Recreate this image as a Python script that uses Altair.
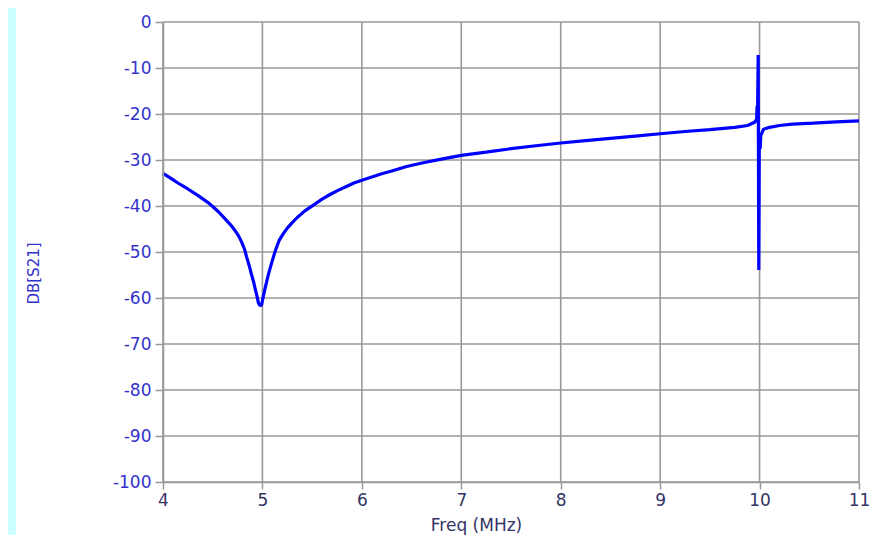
import altair as alt
import pandas as pd

freq = [4.00, 4.08, 4.15, 4.25, 4.35, 4.45, 4.50, 4.56, 4.62, 4.68, 4.72, 4.76,
        4.79, 4.82, 4.84, 4.87, 4.89, 4.91, 4.925, 4.945, 4.96, 4.975, 4.99,
        5.00, 5.02, 5.045, 5.07, 5.095, 5.12, 5.145, 5.17, 5.21, 5.25, 5.30,
        5.35, 5.43, 5.52, 5.60, 5.68, 5.76, 5.85, 5.92, 6.00, 6.10, 6.20, 6.30,
        6.45, 6.64, 6.80, 7.00, 7.25, 7.48, 7.75, 8.00, 8.25, 8.50, 8.75, 9.00,
        9.25, 9.50, 9.75, 9.88, 9.95, 9.97, 9.975, 9.98, 9.986, 9.992, 9.997,
        10.002, 10.006, 10.012, 10.04, 10.10, 10.20, 10.33, 10.54, 10.77, 11.00]
db = [-32.9, -34.0, -35.0, -36.3, -37.7, -39.2, -40.1, -41.3, -42.7, -44.1, -45.2, -46.5,
      -47.8, -49.4, -51.0, -53.2, -54.9, -56.4, -57.8, -59.6, -61.1, -61.6, -61.6,
      -60.6, -58.5, -56.2, -54.1, -52.2, -50.4, -48.8, -47.4, -46.0, -44.8, -43.6,
      -42.5, -41.0, -39.7, -38.5, -37.5, -36.6, -35.7, -35.0, -34.4, -33.7, -33.0, -32.4,
      -31.4, -30.5, -29.8, -29.0, -28.3, -27.6, -26.9, -26.3, -25.8, -25.3, -24.8, -24.3,
      -23.8, -23.4, -22.9, -22.5, -21.8, -21.2, -18.3, -19.8, -7.2, -53.9, -27.8,
      -24.6, -27.6, -24.7, -23.3, -22.9, -22.5, -22.2, -22.0, -21.7, -21.5]

x_ticks = [4, 5, 6, 7, 8, 9, 10, 11]
y_ticks = [0, -10, -20, -30, -40, -50, -60, -70, -80, -90, -100]

W, H = 696, 460
FONT = "DejaVu Sans"
GRID = "#999999"

curve = pd.DataFrame({"freq": freq, "db": db, "order": list(range(len(freq)))})
xgrid = pd.DataFrame({"freq": x_ticks})
ygrid = pd.DataFrame({"db": y_ticks})

xs = alt.Scale(domain=[4, 11], nice=False, zero=False)
ys = alt.Scale(domain=[-100, 0], nice=False, zero=False)

x_axis = alt.Axis(values=x_ticks, grid=False, domain=True, domainColor=GRID, domainWidth=1.5,
                  ticks=True, tickColor=GRID, tickWidth=1.5, tickSize=7,
                  labelFont=FONT, labelFontSize=17, labelColor="#333366", labelPadding=3,
                  labelFlush=False, labelOverlap=False, labelExpr="'' + datum.value",
                  title="Freq (MHz)", titleFont=FONT, titleFontSize=17, titleFontWeight="normal",
                  titleColor="#333366", titleX=313, titleY=43, titleBaseline="middle",
                  titleAlign="center", zindex=1)
y_axis = alt.Axis(values=y_ticks, grid=False, domain=True, domainColor=GRID, domainWidth=1.5,
                  ticks=True, tickColor=GRID, tickWidth=1.5, tickSize=8,
                  labelFont=FONT, labelFontSize=17, labelColor="#3333CC", labelPadding=4,
                  labelFlush=False, labelOverlap=False, labelExpr="'' + datum.value",
                  title="DB[S21]", titleFont=FONT, titleFontSize=15, titleFontWeight="normal",
                  titleColor="#3333CC", titleX=-130, titleY=251, titleBaseline="middle",
                  titleAlign="center", titleAngle=270, zindex=1)

panel = alt.Chart(pd.DataFrame({"k": [0]})).mark_rect(color="white", clip=False).encode(
    x=alt.value(-147), x2=alt.value(W + 40), y=alt.value(-14), y2=alt.value(H + 60))

vgrid = alt.Chart(xgrid).mark_rule(color=GRID, strokeWidth=1.6).encode(
    x=alt.X("freq:Q", scale=xs, axis=x_axis))
hgrid = alt.Chart(ygrid).mark_rule(color=GRID, strokeWidth=1.6).encode(
    y=alt.Y("db:Q", scale=ys, axis=y_axis))

line = alt.Chart(curve).mark_line(color="#0000FF", strokeWidth=3.2, strokeJoin="bevel").encode(
    x=alt.X("freq:Q", scale=xs, axis=x_axis),
    y=alt.Y("db:Q", scale=ys, axis=y_axis),
    order=alt.Order("order:Q"))

chart = alt.layer(panel, vgrid, hgrid, line).properties(
    width=W, height=H,
    autosize=alt.AutoSizeParams(type="none"),
    padding={"left": 155, "top": 14, "right": 24, "bottom": 53},
    background="#CCFFFF",
).configure_view(stroke=None)

chart.save("out.html", embed_options={"renderer": "svg", "actions": False})
